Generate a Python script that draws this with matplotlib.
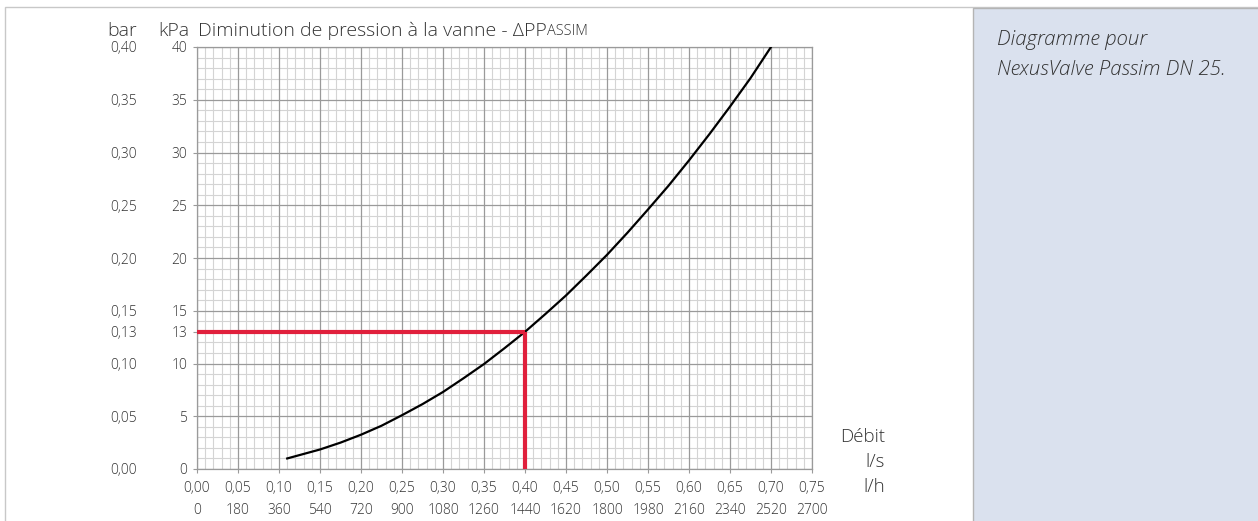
import matplotlib
matplotlib.use("Agg")
import matplotlib.pyplot as plt
from matplotlib.patches import Rectangle
import matplotlib.transforms as mtransforms
import numpy as np

plt.rcParams['font.family'] = ['Open Sans', 'DejaVu Sans']
plt.rcParams['font.weight'] = 'light'

# Flow (l/s) vs pressure drop (kPa) for the valve
flow_ls = [0.11, 0.15, 0.175, 0.20, 0.225, 0.25, 0.275, 0.30, 0.325, 0.35, 0.375,
           0.40, 0.425, 0.45, 0.475, 0.50, 0.525, 0.55, 0.575, 0.60, 0.625, 0.65,
           0.675, 0.70]
dp_kpa = [1.0, 1.85, 2.5, 3.25, 4.1, 5.1, 6.15, 7.3, 8.6, 9.95, 11.45,
          13.0, 14.7, 16.45, 18.35, 20.3, 22.4, 24.6, 26.85, 29.25, 31.75, 34.35,
          37.05, 40.0]

# Operating point
op_flow = 0.40
op_dp = 13

# Axis ticks
x_ticks_ls = [0.00, 0.05, 0.10, 0.15, 0.20, 0.25, 0.30, 0.35, 0.40, 0.45, 0.50,
              0.55, 0.60, 0.65, 0.70, 0.75]
x_labels_lh = ['0', '180', '360', '540', '720', '900', '1080', '1260', '1440',
               '1620', '1800', '1980', '2160', '2340', '2520', '2700']
y_ticks_kpa = [0, 5, 10, 13, 15, 20, 25, 30, 35, 40]
y_labels_bar = ['0,00', '0,05', '0,10', '0,13', '0,15', '0,20', '0,25', '0,30',
                '0,35', '0,40']

TXT = '#333333'
FS = 10
W, H = 1258, 521
fig = plt.figure(figsize=(W / 100, H / 100), dpi=100)

# Outer frame and side panel
frame = Rectangle((5 / W, -0.01), 1.0, 1 - 7 / H + 0.01, transform=fig.transFigure,
                  facecolor='white', edgecolor='#c8c8c8', lw=1.0, zorder=-3)
panel = Rectangle((973 / W, -0.01), 1.0, 1 - 8 / H + 0.01, transform=fig.transFigure,
                  facecolor='#dae1ee', edgecolor='#b4b4b4', lw=1.0, zorder=-2)
fig.patches.extend([frame, panel])
fig.text(997 / W, 1 - 30 / H, 'Diagramme pour\nNexusValve Passim DN 25.',
         fontsize=14.8, style='italic', color=TXT, va='top', ha='left',
         linespacing=1.65, fontweight='light')

ax = fig.add_axes([197 / W, 1 - 469 / H, (812 - 197) / W, (469 - 47) / H])
ax.set_xlim(0, 0.75)
ax.set_ylim(0, 40)
ax.patch.set_alpha(0)

# Grid: minor every 0.01 l/s and 1 kPa, major every 0.05 l/s and 5 kPa
for xv in np.arange(0, 0.7501, 0.01):
    is_major = abs(round(xv / 0.05) * 0.05 - xv) < 1e-6
    ax.axvline(xv, color='#9a9a9a' if is_major else '#d4d4d4',
               lw=0.9 if is_major else 0.8, zorder=1 if is_major else 0.5)
for yv in range(0, 41):
    is_major = yv % 5 == 0
    ax.axhline(yv, color='#9a9a9a' if is_major else '#d4d4d4',
               lw=0.9 if is_major else 0.8, zorder=1 if is_major else 0.5)

for s in ax.spines.values():
    s.set_color('#9a9a9a')
    s.set_linewidth(0.9)

ax.plot(flow_ls, dp_kpa, color='black', lw=1.6, zorder=3, solid_joinstyle='round')
ax.plot([0, op_flow], [op_dp, op_dp], color='#e0203c', lw=3, zorder=4, solid_capstyle='butt')
ax.plot([op_flow, op_flow], [0, op_dp], color='#e0203c', lw=3, zorder=4, solid_capstyle='butt')

ax.set_yticks(y_ticks_kpa)
ax.set_yticklabels([str(v) for v in y_ticks_kpa], va='center_baseline')
ax.set_xticks(x_ticks_ls)
ax.set_xticklabels([f'{v:.2f}'.replace('.', ',') for v in x_ticks_ls])
ax.tick_params(axis='both', colors='#9a9a9a', labelcolor=TXT, labelsize=FS,
               length=3, width=0.8, direction='out')
ax.tick_params(axis='x', pad=6)
ax.tick_params(axis='y', pad=4)

# Bar scale on the far left
ytr = mtransforms.blended_transform_factory(fig.transFigure, ax.transData)
for v, lab in zip(y_ticks_kpa, y_labels_bar):
    fig.text(137 / W, v, lab, transform=ytr, ha='right', va='center_baseline',
             fontsize=FS, color=TXT)

# l/h scale under the l/s scale
xtr = mtransforms.blended_transform_factory(ax.transData, fig.transFigure)
for v, lab in zip(x_ticks_ls, x_labels_lh):
    fig.text(v, 1 - 511 / H, lab, transform=xtr, ha='center', va='center',
             fontsize=FS, color=TXT)

# Column headers
HFS = 14
fig.text(137 / W, 1 - 31 / H, 'bar', ha='right', va='center', fontsize=HFS, color=TXT)
fig.text(189 / W, 1 - 31 / H, 'kPa', ha='right', va='center', fontsize=HFS, color=TXT)
t1 = fig.text(198 / W, 1 - 31 / H, 'Diminution de pression à la vanne - ΔPP',
              ha='left', va='center', fontsize=HFS, color=TXT)
fig.canvas.draw()
bb = t1.get_window_extent()
fig.text(bb.x1 / W + 0.5 / W, 1 - 31.5 / H, 'ASSIM', ha='left', va='center',
         fontsize=10.5, color=TXT)

# Flow axis labels
fig.text(885 / W, 1 - 437 / H, 'Débit', ha='right', va='center', fontsize=13.5, color=TXT)
fig.text(885 / W, 1 - 462 / H, 'l/s', ha='right', va='center', fontsize=13.5, color=TXT)
fig.text(885 / W, 1 - 487 / H, 'l/h', ha='right', va='center', fontsize=13.5, color=TXT)

fig.savefig('out.png', dpi=100)
